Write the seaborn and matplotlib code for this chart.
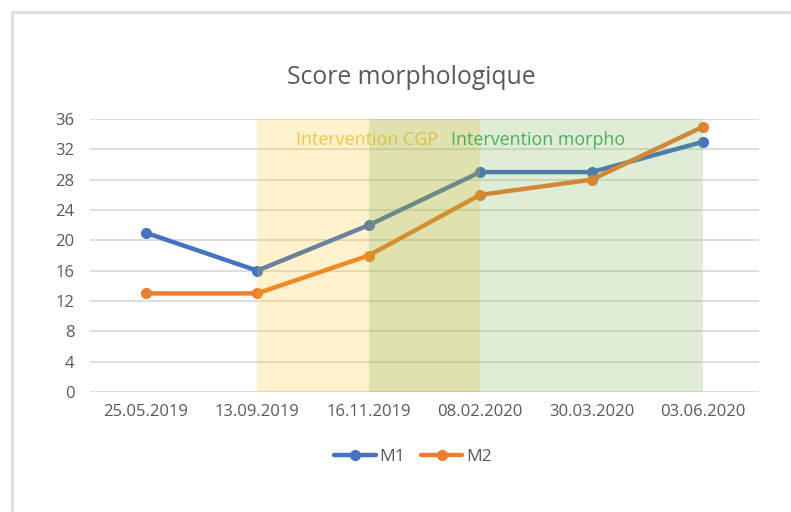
import matplotlib
matplotlib.use("Agg")
import matplotlib.pyplot as plt
import seaborn as sns
import pandas as pd
from matplotlib.lines import Line2D

dates = ["25.05.2019", "13.09.2019", "16.11.2019", "08.02.2020", "30.03.2020", "03.06.2020"]
m1 = [21, 16, 22, 29, 29, 33]
m2 = [13, 13, 18, 26, 28, 35]
series_names = ["M1", "M2"]
y_ticks = [0, 4, 8, 12, 16, 20, 24, 28, 32, 36]
title = "Score morphologique"
span_cgp = (1, 3)
span_morpho = (2, 5)

sns.set_theme(style="white")
plt.rcParams['font.family'] = ['Open Sans', 'DejaVu Sans']

df = pd.DataFrame({
    "idx": list(range(len(dates))) * 2,
    "score": m1 + m2,
    "serie": [series_names[0]] * len(dates) + [series_names[1]] * len(dates),
})

W, H = 791, 512
fig = plt.figure(figsize=(W / 100, H / 100), dpi=100)
ax = fig.add_axes([90 / W, 1 - 392 / H, (759 - 90) / W, (392 - 119) / H])

palette = {"M1": "#4472C4", "M2": "#ED7D31"}
sns.lineplot(data=df, x="idx", y="score", hue="serie", palette=palette, ax=ax,
             marker="o", markersize=8, markeredgewidth=0, linewidth=3.2,
             legend=False, zorder=3)

# shaded intervention periods (drawn over lines, translucent)
ax.axvspan(*span_cgp, color="#FFC000", alpha=0.2, lw=0, zorder=4)
ax.text(1.35, 33.2, "Intervention CGP", color="#F2C744", fontsize=12.9, va="center", ha="left", zorder=4.5)
ax.axvspan(*span_morpho, color="#70AD47", alpha=0.22, lw=0, zorder=5)
ax.text(2.74, 33.2, "Intervention morpho", color="#4CAF5A", fontsize=12.9, va="center", ha="left", zorder=6)

ax.set_xlim(-0.5, len(dates) - 0.5)
ax.set_ylim(0, 36)
ax.set_yticks(y_ticks)
ax.set_xticks(range(len(dates)))
ax.set_xticklabels(dates)
ax.yaxis.grid(True, color="#D9D9D9", linewidth=1.2, zorder=0)
ax.set_axisbelow(True)
for s in ax.spines.values():
    s.set_visible(False)
ax.tick_params(axis="both", length=0, labelsize=12, labelcolor="#595959", pad=9)
ax.tick_params(axis="y", pad=11)
ax.set_xlabel("")
ax.set_ylabel("")

fig.text(411 / W, 1 - 78 / H, title, ha="center", va="center", fontsize=17.8, color="#595959")

handles = [Line2D([], [], color=palette[n], marker="o", markersize=8, markeredgewidth=0, linewidth=3.2) for n in series_names]
fig.legend(handles, series_names, loc="center", bbox_to_anchor=(413 / W, 1 - 457 / H), ncol=2,
           frameon=False, fontsize=12.5, labelcolor="#595959", handlelength=2.4, columnspacing=0.9, handletextpad=0.2)

# outer frame (top and left visible)
fig.add_artist(Line2D([12 / W, 12 / W], [1 - 510 / H, 1 - 12 / H], transform=fig.transFigure, color="#DDDDDA", lw=2))
fig.add_artist(Line2D([12 / W, 1.0], [1 - 12 / H, 1 - 12 / H], transform=fig.transFigure, color="#DDDDDA", lw=2))

fig.savefig("out.png", dpi=100)
